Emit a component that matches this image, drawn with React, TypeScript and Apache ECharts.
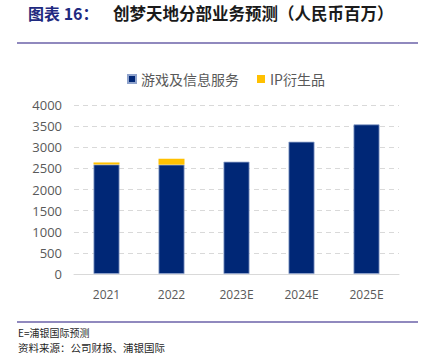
import React, { useEffect, useRef } from "react";
import * as echarts from "echarts";

const categories = ["2021", "2022", "2023E", "2024E", "2025E"];
const gameValues = [2592, 2588, 2658, 3131, 3541];
const ipValues = [48, 140, 0, 0, 0];
const seriesNames = ["游戏及信息服务", "IP衍生品"];
const titleText = "创梦天地分部业务预测（人民币百万）";
const titlePrefix = "图表 16：";
const footnote1 = "E=浦银国际预测";
const footnote2 = "资料来源：公司财报、浦银国际";

const CJK = '"Noto Sans CJK SC", "Noto Sans", sans-serif';

export default function App() {
  const ref = useRef<HTMLDivElement>(null);
  useEffect(() => {
    if (!ref.current) return;
    const chart = echarts.init(ref.current, null, { renderer: "svg" });
    chart.setOption({
      animation: false,
      backgroundColor: "#ffffff",
      grid: { left: 74, right: 25, top: 105, bottom: 82, containLabel: false },
      legend: {
        top: 67,
        left: 122,
        itemWidth: 8,
        itemHeight: 8,
        itemGap: 18,
        icon: "rect",
        textStyle: { color: "#595959", fontSize: 14, fontFamily: CJK, padding: [0, 0, 0, 0] },
        data: seriesNames,
      },
      xAxis: {
        type: "category",
        data: categories,
        axisLine: { lineStyle: { color: "#D9D9D9", width: 1 } },
        axisTick: { show: false },
        axisLabel: { color: "#595959", fontSize: 12, margin: 14, fontFamily: '"Open Sans", sans-serif' },
      },
      yAxis: {
        type: "value",
        min: 0,
        max: 4000,
        interval: 500,
        axisLine: { show: false },
        axisTick: { show: false },
        axisLabel: {
          color: "#595959",
          fontSize: 13,
          margin: 12,
          fontFamily: '"Open Sans", sans-serif',
          formatter: (v: number) => String(v),
        },
        splitLine: { lineStyle: { color: "#D9D9D9", type: [5, 4], width: 1 } },
      },
      series: [
        {
          name: seriesNames[0],
          type: "bar",
          stack: "a",
          data: gameValues,
          barWidth: 26,
          itemStyle: { color: "#002776", borderColor: "#8FA3CC", borderWidth: 0.8 },
        },
        {
          name: seriesNames[1],
          type: "bar",
          stack: "a",
          data: ipValues,
          barWidth: 26,
          itemStyle: { color: "#FFC000" },
        },
      ],
      graphic: [
        {
          type: "text",
          left: 28,
          top: 5,
          style: {
            text: titlePrefix,
            fill: "#1F2A80",
            font: `bold 16px ${CJK}`,
          },
        },
        {
          type: "text",
          left: 113,
          top: 5,
          style: {
            text: titleText,
            fill: "#1a1a1a",
            font: `bold 16.5px ${CJK}`,
          },
        },
        {
          type: "line",
          shape: { x1: 17, y1: 43, x2: 418, y2: 43 },
          style: { stroke: "#6B62A8", lineWidth: 1.5 },
        },
        {
          type: "line",
          shape: { x1: 17, y1: 322, x2: 418, y2: 322 },
          style: { stroke: "#6B62A8", lineWidth: 1.5 },
        },
        {
          type: "text",
          left: 18,
          top: 327,
          style: { text: footnote1, fill: "#262626", font: `10px ${CJK}` },
        },
        {
          type: "text",
          left: 18,
          top: 342,
          style: { text: footnote2, fill: "#262626", font: `10.5px ${CJK}` },
        },
      ],
    });
    return () => chart.dispose();
  }, []);
  return <div ref={ref} style={{ width: 424, height: 356, position: "absolute", left: 0, top: 0 }} />;
}
